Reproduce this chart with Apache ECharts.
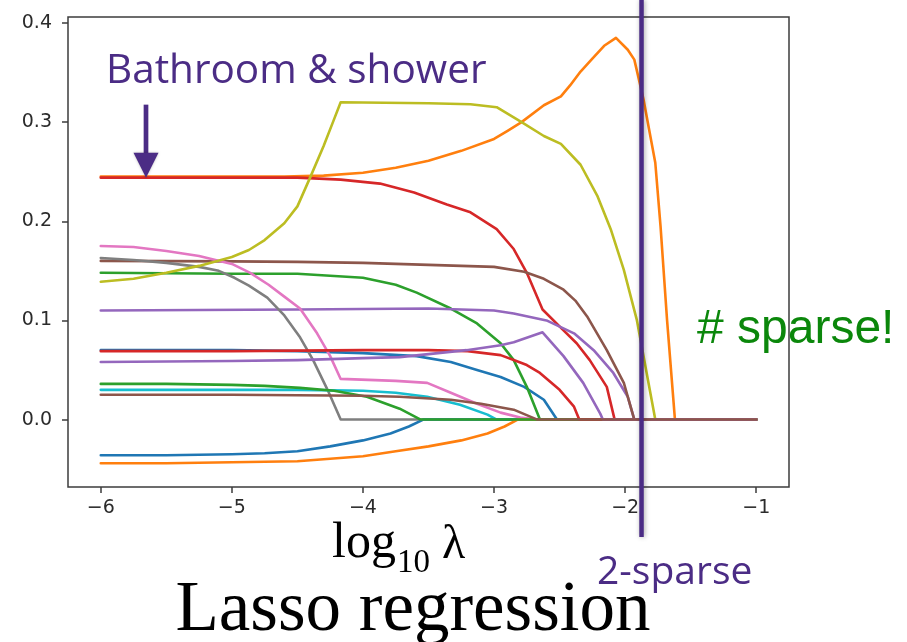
<!DOCTYPE html>
<html>
<head>
<meta charset="utf-8">
<script src="https://cdn.jsdelivr.net/npm/echarts@6/dist/echarts.min.js"></script>
<style>
  html, body { margin: 0; padding: 0; background: #fff; }
  #chart { width: 907px; height: 642px; }
</style>
</head>
<body>
<div id="chart"></div>
<script>
// Lasso coefficient paths: each path is a list of [log10(lambda), coefficient]
const xTicks = [-6, -5, -4, -3, -2, -1];
const yTicks = [0.0, 0.1, 0.2, 0.3, 0.4];

const blueHigh = [[-6,0.070],[-5,0.070],[-4.5,0.069],[-4,0.067],[-3.59,0.064],[-3.33,0.058],[-3.13,0.050],[-2.95,0.043],[-2.77,0.033],[-2.62,0.020],[-2.52,0],[-1,0]];
const orangeTop = [[-6,0.245],[-4.6,0.245],[-4.3,0.246],[-4.0,0.249],[-3.75,0.254],[-3.5,0.261],[-3.25,0.271],[-3.0,0.283],[-2.9,0.291],[-2.79,0.300],[-2.62,0.317],[-2.49,0.326],[-2.42,0.337],[-2.34,0.351],[-2.25,0.364],[-2.16,0.377],[-2.07,0.385],[-1.98,0.373],[-1.93,0.363],[-1.86,0.323],[-1.77,0.259],[-1.73,0.195],[-1.68,0.10],[-1.62,0],[-1,0]];
const greenHigh = [[-6,0.148],[-5,0.147],[-4.5,0.147],[-4.0,0.143],[-3.75,0.136],[-3.59,0.128],[-3.33,0.112],[-3.13,0.097],[-2.95,0.077],[-2.85,0.060],[-2.75,0.033],[-2.65,0],[-1,0]];
const redTop = [[-6,0.244],[-4.5,0.244],[-4.17,0.242],[-3.87,0.238],[-3.61,0.229],[-3.36,0.217],[-3.18,0.209],[-2.98,0.192],[-2.85,0.172],[-2.75,0.148],[-2.63,0.111],[-2.47,0.090],[-2.37,0.077],[-2.27,0.060],[-2.14,0.033],[-2.08,0],[-1,0]];
const purpleHigh = [[-6,0.110],[-4.5,0.111],[-3.5,0.112],[-3.0,0.110],[-2.85,0.107],[-2.6,0.100],[-2.39,0.087],[-2.24,0.070],[-2.09,0.047],[-1.98,0.023],[-1.93,0],[-1,0]];
const brownHigh = [[-6,0.160],[-5,0.1595],[-4.5,0.159],[-4,0.158],[-3.5,0.156],[-3.0,0.154],[-2.77,0.149],[-2.62,0.142],[-2.47,0.131],[-2.38,0.120],[-2.29,0.104],[-2.14,0.070],[-2.01,0.037],[-1.93,0],[-1,0]];
const pink = [[-6,0.175],[-5.75,0.174],[-5.5,0.170],[-5.25,0.165],[-5.0,0.157],[-4.86,0.148],[-4.72,0.136],[-4.6,0.124],[-4.48,0.112],[-4.35,0.087],[-4.25,0.064],[-4.17,0.041],[-3.75,0.039],[-3.51,0.037],[-3.33,0.027],[-3.13,0.016],[-2.95,0.007],[-2.8,0.002],[-2.67,0],[-1,0]];
const gray = [[-6,0.163],[-5.75,0.161],[-5.5,0.158],[-5.25,0.154],[-5.1,0.150],[-4.98,0.143],[-4.87,0.135],[-4.73,0.123],[-4.6,0.105],[-4.48,0.083],[-4.38,0.060],[-4.27,0.030],[-4.17,0],[-1,0]];
const olive = [[-6,0.139],[-5.75,0.142],[-5.5,0.148],[-5.25,0.155],[-5.0,0.164],[-4.87,0.171],[-4.75,0.181],[-4.6,0.198],[-4.5,0.215],[-4.4,0.245],[-4.3,0.276],[-4.22,0.303],[-4.17,0.320],[-3.5,0.319],[-3.18,0.318],[-2.98,0.315],[-2.79,0.300],[-2.62,0.286],[-2.49,0.278],[-2.34,0.257],[-2.21,0.225],[-2.11,0.192],[-2.01,0.151],[-1.91,0.100],[-1.77,0],[-1,0]];
const cyan = [[-6,0.030],[-5,0.030],[-4.5,0.030],[-4,0.029],[-3.75,0.027],[-3.51,0.023],[-3.26,0.015],[-3.05,0.005],[-2.98,0],[-1,0]];
const blueLow = [[-6,-0.036],[-5.5,-0.036],[-5,-0.035],[-4.75,-0.034],[-4.5,-0.032],[-4.25,-0.027],[-4.0,-0.021],[-3.79,-0.014],[-3.65,-0.007],[-3.54,0],[-1,0]];
const orangeLow = [[-6,-0.044],[-5.5,-0.044],[-5,-0.043],[-4.5,-0.042],[-4.0,-0.037],[-3.75,-0.032],[-3.5,-0.027],[-3.25,-0.021],[-3.05,-0.014],[-2.92,-0.007],[-2.82,0],[-1,0]];
const greenLow = [[-6,0.036],[-5.5,0.036],[-5,0.035],[-4.75,0.034],[-4.48,0.032],[-4.22,0.029],[-3.97,0.023],[-3.72,0.011],[-3.56,0],[-1,0]];
const redLow = [[-6,0.069],[-5,0.069],[-4,0.070],[-3.5,0.070],[-3.2,0.069],[-2.95,0.065],[-2.85,0.060],[-2.75,0.055],[-2.65,0.047],[-2.5,0.030],[-2.39,0.013],[-2.35,0],[-1,0]];
const purpleLow = [[-6,0.058],[-5,0.059],[-4.5,0.060],[-4,0.062],[-3.72,0.063],[-3.5,0.066],[-3.21,0.070],[-2.95,0.075],[-2.85,0.078],[-2.63,0.088],[-2.47,0.064],[-2.32,0.037],[-2.19,0.006],[-2.17,0],[-1,0]];
const brownLow = [[-6,0.025],[-5,0.025],[-4,0.024],[-3.72,0.023],[-3.33,0.020],[-3.1,0.016],[-2.85,0.010],[-2.67,0],[-1,0]];

// drawn in matplotlib's default colour-cycle order
const paths = [blueHigh, orangeTop, greenHigh, redTop, purpleHigh, brownHigh, pink, gray, olive, cyan,
               blueLow, orangeLow, greenLow, redLow, purpleLow, brownLow];
const palette = ['#1f77b4', '#ff7f0e', '#2ca02c', '#d62728', '#9467bd', '#8c564b', '#e377c2', '#7f7f7f', '#bcbd22', '#17becf'];

const sparseCut = -1.875;       // log10 lambda where only two features remain
const arrowTarget = [-5.655, 0.245];

const chart = echarts.init(document.getElementById('chart'), null, { renderer: 'canvas' });

const tickFont = { fontFamily: 'DejaVu Sans', fontSize: 19, color: '#2b2b2b' };
const tickLine = { color: '#3c3c3c', width: 1.5 };

chart.setOption({
  animation: false,
  backgroundColor: '#ffffff',
  grid: {
    left: 68, right: 118, top: 17, bottom: 155,
    show: true, borderColor: '#3c3c3c', borderWidth: 1.5, backgroundColor: 'transparent'
  },
  xAxis: {
    type: 'value', min: -6.25, max: -0.75,
    splitLine: { show: false },
    axisLine: { show: false, onZero: false },
    axisTick: { show: true, inside: false, length: 6, customValues: xTicks, lineStyle: tickLine },
    axisLabel: { customValues: xTicks, margin: 12, formatter: v => (v < 0 ? '\u2212' + Math.abs(v) : String(v)), ...tickFont }
  },
  yAxis: {
    type: 'value', min: -0.068, max: 0.406,
    splitLine: { show: false },
    axisLine: { show: false, onZero: false },
    axisTick: { show: true, inside: false, length: 6, customValues: yTicks, lineStyle: tickLine },
    axisLabel: { customValues: yTicks, margin: 16, formatter: v => v.toFixed(1), ...tickFont }
  },
  series: paths.map((d, i) => ({
    type: 'line',
    data: d,
    showSymbol: false,
    smooth: false,
    lineStyle: { color: palette[i % palette.length], width: 2.6, join: 'round', cap: 'round' },
    emphasis: { disabled: true }
  }))
});

// annotations placed from data coordinates
const cutX = chart.convertToPixel({ gridIndex: 0 }, [sparseCut, 0])[0];
const tip = chart.convertToPixel({ gridIndex: 0 }, arrowTarget);
const purple = '#4b2c85';

chart.setOption({
  graphic: [
    // vertical marker at the 2-sparse point
    {
      type: 'line', z: 50,
      shape: { x1: cutX, y1: 0, x2: cutX, y2: 537 },
      style: { stroke: purple, lineWidth: 4.5, shadowBlur: 5, shadowColor: 'rgba(0,0,0,0.35)', shadowOffsetX: 1 }
    },
    // arrow pointing at the bathroom & shower coefficient
    {
      type: 'line', z: 50,
      shape: { x1: tip[0], y1: tip[1] - 72, x2: tip[0], y2: tip[1] - 20 },
      style: { stroke: purple, lineWidth: 4.7 }
    },
    {
      type: 'polygon', z: 50,
      shape: { points: [[tip[0] - 12.5, tip[1] - 24], [tip[0] + 12.5, tip[1] - 24], [tip[0], tip[1] + 1]] },
      style: { fill: purple, shadowBlur: 3, shadowColor: 'rgba(0,0,0,0.25)' }
    },
    {
      type: 'text', z: 50, x: 106, y: 71,
      style: { text: 'Bathroom & shower', fill: purple, font: '40.5px "Open Sans"', textVerticalAlign: 'middle' }
    },
    {
      type: 'text', z: 50, x: 697, y: 330,
      style: { text: '# sparse!', fill: '#0b870b', font: '48px "Liberation Sans"', textVerticalAlign: 'middle' }
    },
    {
      type: 'text', z: 50, x: 597, y: 573,
      style: { text: '2-sparse', fill: purple, font: '39px "Open Sans"', textVerticalAlign: 'middle' }
    },
    {
      type: 'text', z: 50, x: 332, y: 545,
      style: {
        text: '{a|log}{b|10}{c|λ}',
        textVerticalAlign: 'middle',
        rich: {
          a: { fontFamily: 'Liberation Serif', fontSize: 50, fill: '#000', verticalAlign: 'bottom', lineHeight: 48 },
          b: { fontFamily: 'Liberation Serif', fontSize: 33, fill: '#000', verticalAlign: 'bottom', lineHeight: 32, padding: [0, 0, -11, 1] },
          c: { fontFamily: 'Liberation Serif', fontSize: 48, fill: '#000', verticalAlign: 'bottom', lineHeight: 48, padding: [0, 0, 0, 12] }
        }
      }
    },
    {
      type: 'text', z: 50, x: 413, y: 611,
      style: { text: 'Lasso regression', fill: '#000', font: '71px "Liberation Serif"', textAlign: 'center', textVerticalAlign: 'middle' }
    }
  ]
});
</script>
</body>
</html>
